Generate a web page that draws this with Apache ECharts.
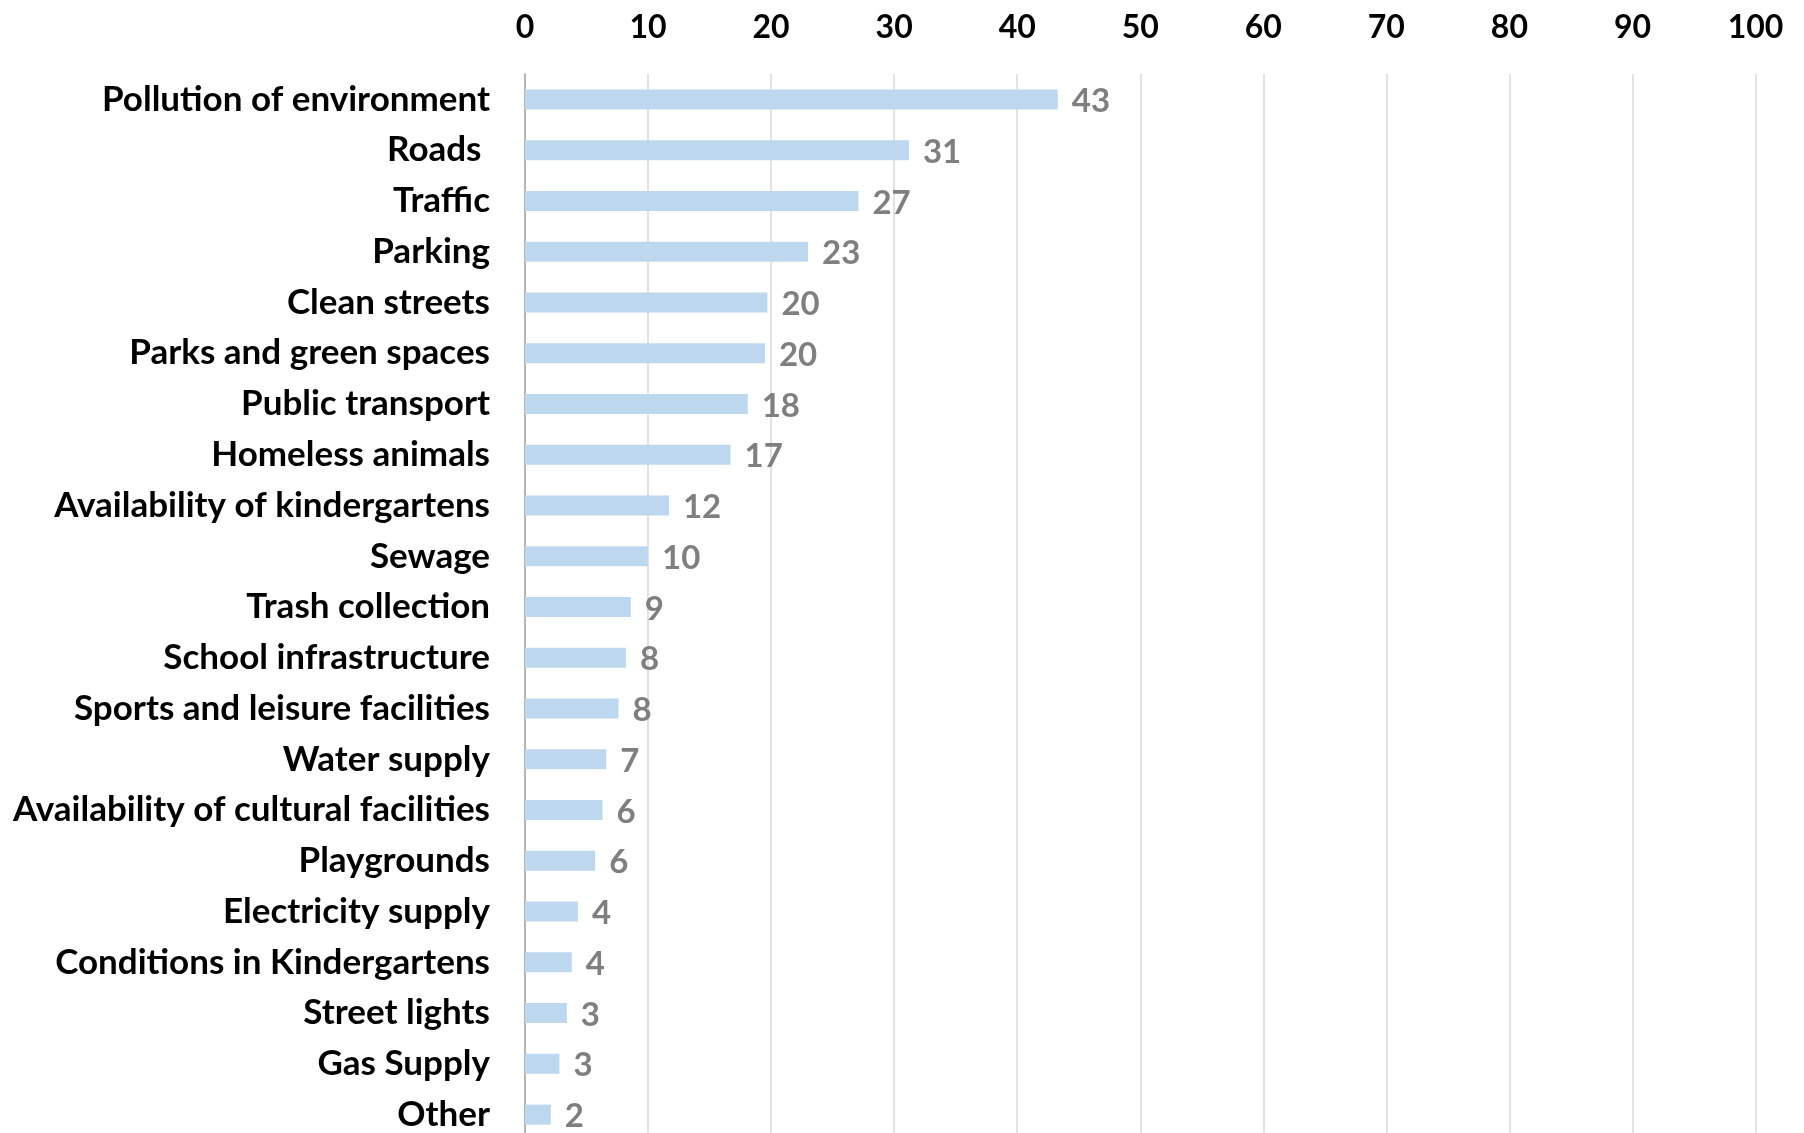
<!DOCTYPE html>
<html>
<head>
<meta charset="utf-8">
<script src="https://cdn.jsdelivr.net/npm/echarts@6/dist/echarts.min.js"></script>
<style>
html,body{margin:0;padding:0;background:#fff;}
#chart{width:1804px;height:1133px;}
</style>
</head>
<body>
<div id="chart"></div>
<script>
const categories = [
  "Pollution of environment", "Roads ", "Traffic", "Parking", "Clean streets",
  "Parks and green spaces", "Public transport", "Homeless animals",
  "Availability of kindergartens", "Sewage", "Trash collection",
  "School infrastructure", "Sports and leisure facilities", "Water supply",
  "Availability of cultural facilities", "Playgrounds", "Electricity supply",
  "Conditions in Kindergartens", "Street lights", "Gas Supply", "Other"
];
const values = [43.3, 31.2, 27.1, 23.0, 19.7, 19.5, 18.1, 16.7, 11.7, 10.0, 8.6,
  8.2, 7.6, 6.6, 6.3, 5.7, 4.3, 3.8, 3.4, 2.8, 2.1];
const shownLabels = [43, 31, 27, 23, 20, 20, 18, 17, 12, 10, 9, 8, 8, 7, 6, 6, 4, 4, 3, 3, 2];
const xTicks = { min: 0, max: 100, interval: 10 };

const FONT = 'Lato';
const chart = echarts.init(document.getElementById('chart'), null, { renderer: 'canvas' });
chart.setOption({
  animation: false,
  backgroundColor: '#ffffff',
  grid: { left: 525, top: 74, width: 1230.5, height: 1066, containLabel: false, outerBoundsMode: 'none' },
  xAxis: {
    type: 'value', position: 'top',
    min: xTicks.min, max: xTicks.max, interval: xTicks.interval,
    axisLine: { show: false }, axisTick: { show: false },
    axisLabel: { color: '#000000', fontFamily: FONT, fontWeight: 'bold', fontSize: 32, margin: 30 },
    splitLine: { show: true, lineStyle: { color: '#D9D9D9', width: 1.5 } }
  },
  yAxis: {
    type: 'category', inverse: true, data: categories,
    axisLine: { show: true, lineStyle: { color: '#A6A6A6', width: 1.5 } },
    axisTick: { show: false },
    axisLabel: { color: '#000000', fontFamily: FONT, fontWeight: 'bold', fontSize: 35, margin: 35 }
  },
  series: [{
    type: 'bar', data: values, barWidth: 20,
    itemStyle: { color: '#BDD7EE' },
    label: {
      show: true, position: 'right', distance: 14,
      color: '#7F7F7F', fontFamily: FONT, fontWeight: 'bold', fontSize: 33,
      offset: [0, 2],
      formatter: p => String(shownLabels[p.dataIndex])
    }
  }]
});
</script>
</body>
</html>
